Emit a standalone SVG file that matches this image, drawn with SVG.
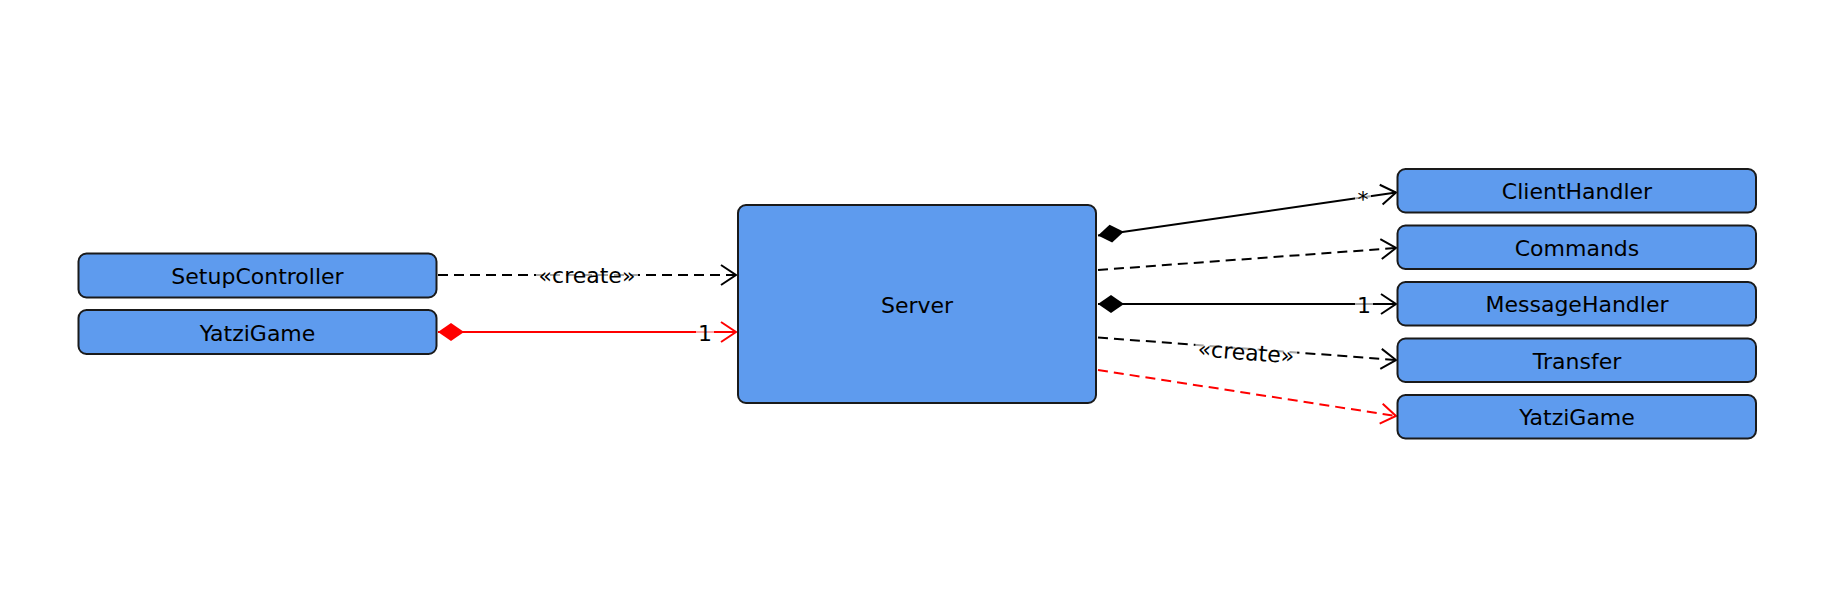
<svg xmlns="http://www.w3.org/2000/svg" width="1842" height="596" viewBox="0 0 1842 596">
<style>
.node{fill:#5E9BEE;stroke:#1a1a1a;stroke-width:2}
.t{font-family:"DejaVu Sans",sans-serif;font-size:22px;fill:#000;text-anchor:middle}
.lbl{font-family:"DejaVu Sans",sans-serif;font-size:22px;fill:#000;text-anchor:middle}
.c{fill:none;stroke-width:2}
.blk{stroke:#000}
.red{stroke:#ff0000}
.dash{stroke-dasharray:10 6}
.bg{fill:#fff;fill-opacity:0.65}
</style>
<defs>
<marker id="arrB" markerUnits="userSpaceOnUse" markerWidth="40" markerHeight="40" refX="0" refY="0" orient="auto" viewBox="-20 -20 40 40" overflow="visible">
<path d="M-15,-10 L0,0 L-15,10" fill="none" stroke="#000" stroke-width="2"/>
</marker>
<marker id="arrR" markerUnits="userSpaceOnUse" markerWidth="40" markerHeight="40" refX="0" refY="0" orient="auto" viewBox="-20 -20 40 40" overflow="visible">
<path d="M-15,-10 L0,0 L-15,10" fill="none" stroke="#ff0000" stroke-width="2"/>
</marker>
<marker id="diaB" markerUnits="userSpaceOnUse" markerWidth="40" markerHeight="40" refX="0" refY="0" orient="auto" viewBox="-5 -20 40 40" overflow="visible">
<path d="M0,0 L13,-9 L26,0 L13,9 Z" fill="#000" stroke="none"/>
</marker>
<marker id="diaR" markerUnits="userSpaceOnUse" markerWidth="40" markerHeight="40" refX="0" refY="0" orient="auto" viewBox="-5 -20 40 40" overflow="visible">
<path d="M0,0 L13,-9 L26,0 L13,9 Z" fill="#ff0000" stroke="none"/>
</marker>
</defs>
<rect width="1842" height="596" fill="#fff"/>

<g id="connectors">
<line class="c blk dash" x1="438" y1="275" x2="736" y2="275" marker-end="url(#arrB)"/>
<rect class="bg" x="536" y="259" width="102" height="33"/>
<text class="lbl" x="587" y="283">«create»</text>

<line class="c red" x1="438" y1="332" x2="736" y2="332" marker-start="url(#diaR)" marker-end="url(#arrR)"/>
<rect class="bg" x="696" y="320" width="18" height="25"/>
<text class="lbl" x="705" y="341">1</text>

<line class="c blk" x1="1098" y1="235.5" x2="1396" y2="192.5" marker-start="url(#diaB)" marker-end="url(#arrB)"/>
<rect class="bg" x="1355" y="185" width="16" height="20"/>
<text class="lbl" x="1363" y="207">*</text>

<line class="c blk dash" x1="1098" y1="270" x2="1396" y2="248" marker-end="url(#arrB)"/>

<line class="c blk" x1="1098" y1="304" x2="1396" y2="304" marker-start="url(#diaB)" marker-end="url(#arrB)"/>
<rect class="bg" x="1355" y="292" width="18" height="25"/>
<text class="lbl" x="1364" y="313">1</text>

<line class="c blk dash" x1="1098" y1="337.5" x2="1396" y2="360" marker-end="url(#arrB)"/>
<g transform="translate(1246 352) rotate(4.3)">
<rect class="bg" x="-51" y="-16" width="102" height="33"/>
<text class="lbl" x="0" y="8">«create»</text>
</g>

<line class="c red dash" x1="1098" y1="370" x2="1396" y2="416" marker-end="url(#arrR)"/>
</g>

<g id="SetupController">
<rect class="node" x="78.5" y="253.5" width="358" height="44" rx="8"/>
<text class="t" x="257.5" y="284">SetupController</text>
</g>
<g id="YatziGameLeft">
<rect class="node" x="78.5" y="310" width="358" height="44" rx="8"/>
<text class="t" x="257.5" y="341">YatziGame</text>
</g>
<g id="Server">
<rect class="node" x="738" y="205" width="358" height="198" rx="8"/>
<text class="t" x="917" y="313">Server</text>
</g>
<g id="ClientHandler">
<rect class="node" x="1397.5" y="169" width="358.5" height="43.5" rx="8"/>
<text class="t" x="1577" y="199">ClientHandler</text>
</g>
<g id="Commands">
<rect class="node" x="1397.5" y="225.5" width="358.5" height="43.5" rx="8"/>
<text class="t" x="1577" y="256">Commands</text>
</g>
<g id="MessageHandler">
<rect class="node" x="1397.5" y="282" width="358.5" height="43.5" rx="8"/>
<text class="t" x="1577" y="312">MessageHandler</text>
</g>
<g id="Transfer">
<rect class="node" x="1397.5" y="338.5" width="358.5" height="43.5" rx="8"/>
<text class="t" x="1577" y="369">Transfer</text>
</g>
<g id="YatziGameRight">
<rect class="node" x="1397.5" y="395" width="358.5" height="43.5" rx="8"/>
<text class="t" x="1577" y="425">YatziGame</text>
</g>
</svg>
